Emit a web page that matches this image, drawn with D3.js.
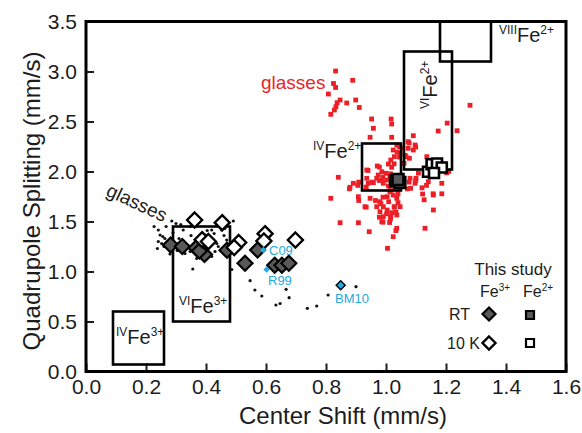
<!DOCTYPE html>
<html>
<head>
<meta charset="utf-8">
<script src="https://cdn.jsdelivr.net/npm/d3@7/dist/d3.min.js"></script>
<style>
  html, body { margin: 0; padding: 0; background: #fff; }
  svg { display: block; font-family: "Liberation Sans", Arial, sans-serif; }
</style>
</head>
<body>
<svg id="chart" width="582" height="433"></svg>
<script>
// Axis ticks
const xTicks = [0.0, 0.2, 0.4, 0.6, 0.8, 1.0, 1.2, 1.4, 1.6];
const yTicks = [0.0, 0.5, 1.0, 1.5, 2.0, 2.5, 3.0, 3.5];

// Literature site fields [csMin, qsMin, csMax, qsMax]
const siteFields = [
  { pre: "IV",   post: "3+", box: [0.09, 0.07, 0.26, 0.60] },
  { pre: "VI",   post: "3+", box: [0.29, 0.50, 0.48, 1.45] },
  { pre: "IV",   post: "2+", box: [0.92, 1.81, 1.05, 2.28] },
  { pre: "VI",   post: "2+", box: [1.06, 2.02, 1.22, 3.20] },
  { pre: "VIII", post: "2+", box: [1.18, 3.10, 1.35, 3.50] }
];

// Fe3+ in glasses, literature [CS, QS]
const glassFe3 = [
  [0.286,1.505],[0.300,1.480],[0.316,1.470],[0.241,1.415],[0.247,1.365],[0.256,1.350],
  [0.241,1.300],[0.238,1.230],[0.263,1.330],[0.271,1.300],[0.252,1.280],[0.260,1.250],
  [0.280,1.230],[0.304,1.210],[0.330,1.180],[0.347,1.200],[0.369,1.315],[0.397,1.365],
  [0.404,1.410],[0.419,1.415],[0.427,1.380],[0.452,1.415],[0.463,1.430],[0.491,1.505],
  [0.436,1.280],[0.441,1.250],[0.452,1.215],[0.430,1.200],[0.413,1.250],[0.347,1.450],
  [0.324,1.415],[0.419,1.150],[0.369,1.130],[0.469,1.315],[0.486,1.255],[0.280,1.175],
  [0.267,1.450],[0.227,1.450],[0.444,1.493],[0.350,1.360],[0.310,1.330],[0.390,1.270],
  [0.460,1.360],[0.290,1.390],
  [0.356,1.025],[0.486,1.020],[0.547,0.908],[0.563,0.815],[0.586,0.755],[0.633,0.665],
  [0.647,0.680],[0.677,0.738],[0.667,0.822],[0.738,0.632],[0.769,0.655],[0.807,0.765],
  [0.900,0.848]
];

// Fe2+ in glasses, literature [CS, QS]
const glassFe2 = [
  [0.832,3.005],[0.889,2.912],[0.825,2.880],[0.832,2.840],[0.808,2.775],[0.847,2.715],
  [0.899,2.715],[0.837,2.688],[0.869,2.685],[0.833,2.648],[0.911,2.640],[0.828,2.615],
  [0.816,2.572],[0.952,2.525],[1.017,2.525],[1.019,2.475],[0.958,2.432],[0.947,2.342],
  [1.019,2.342],[1.280,2.662],[1.204,2.484],[1.237,2.408],[1.174,2.405],[1.091,2.358],
  [1.136,2.148],[1.209,2.000],[1.036,2.265],[1.074,2.298],[1.097,2.265],[1.091,2.215],
  [1.074,2.232],[1.044,2.248],[1.024,2.215],[1.047,2.182],[1.028,2.148],[1.067,2.148],
  [1.078,2.132],[1.016,2.115],[1.060,2.082],[0.971,2.055],[1.008,2.075],[1.019,2.042],
  [0.936,2.015],[0.986,1.998],[1.000,1.982],[0.974,1.965],[0.969,1.932],[0.986,1.915],
  [1.002,1.915],[1.013,1.948],[0.936,1.932],[0.958,1.888],[0.991,1.882],[1.008,1.855],
  [0.941,1.882],[0.891,1.882],[0.880,1.842],[0.841,1.942],[1.080,1.932],[1.100,1.932],
  [1.097,1.882],[1.082,1.832],[1.130,1.965],[1.141,1.898],[1.186,1.882],[1.122,1.775],
  [1.158,1.765],[1.158,1.615],[1.130,1.432],[1.202,1.988],[1.013,1.798],[1.024,1.765],
  [1.004,1.748],[1.036,1.732],[0.980,1.698],[1.009,1.698],[1.040,1.688],[0.991,1.648],
  [1.028,1.648],[1.004,1.615],[1.019,1.588],[1.047,1.648],[0.980,1.598],[0.991,1.548],
  [1.016,1.548],[1.036,1.565],[0.969,1.648],[0.930,1.648],[0.947,1.732],[0.908,1.748],
  [0.816,1.732],[0.847,1.488],[0.908,1.488],[0.986,1.498],[1.012,1.490],[0.944,1.398],
  [1.036,1.432],[1.024,1.348],[1.005,1.232],[1.077,2.285],[1.099,2.245],[1.055,2.234],
  [1.037,2.194],[1.064,2.161],[1.045,2.144],[1.027,2.077],[0.978,2.044],[0.940,2.011],
  [1.015,1.977],[0.990,1.944],[0.978,1.910],[0.953,1.894],[0.909,1.894],[0.878,1.827],
  [0.906,1.861],[0.934,1.844],[1.021,1.904],[1.099,1.910],[1.108,1.984],[1.077,1.894],
  [1.135,1.861],[1.120,1.837],[1.157,1.777],[1.071,1.827],[1.040,1.777],[1.015,1.810],
  [0.990,1.743],[0.965,1.710],[0.909,1.710],[0.934,1.643],[0.983,1.677],[1.027,1.643],
  [1.002,1.576],[1.033,1.593],[0.978,1.543],[1.015,1.526],[0.990,1.493],[1.033,1.409],
  [1.127,1.717],[1.186,1.777]
];

// This study: Fe3+ doublets at room temperature and 10 K
const fe3RT = [
  [0.282,1.265],[0.321,1.250],[0.367,1.235],[0.395,1.170],[0.378,1.205],[0.470,1.212],
  [0.530,1.082],[0.572,1.215],[0.629,1.062],[0.653,1.062],[0.676,1.082]
];
const fe3Cold = [
  [0.362,1.515],[0.454,1.488],[0.387,1.318],[0.408,1.300],[0.509,1.290],[0.494,1.240],
  [0.597,1.378],[0.593,1.305],[0.698,1.315]
];
// This study: Fe2+ doublets at room temperature and 10 K
const fe2RT = [[1.032,1.905],[1.046,1.890],[1.040,1.920]];
const fe2Cold = [[1.140,1.998],[1.152,2.072],[1.170,2.080],[1.186,2.040],[1.160,1.985]];

// Published reference compositions
const refNames = ["C09", "R99", "BM10"];
const refPoints = [[0.591,1.215],[0.602,1.020],[0.849,0.862]];

const W = 582, H = 433;
const margin = { left: 86, right: 16, top: 21.5, bottom: 61.5 };
const svg = d3.select("#chart");
svg.append("rect").attr("width", W).attr("height", H).attr("fill", "#fff");

const x = d3.scaleLinear().domain([0, 1.6]).range([margin.left, W - margin.right]);
const y = d3.scaleLinear().domain([0, 3.5]).range([H - margin.bottom, margin.top]);

const ink = "#1c1c1c";

// axes with inward ticks
const xAxis = svg.append("g")
  .attr("transform", `translate(0,${y(0)})`)
  .call(d3.axisBottom(x).tickValues(xTicks).tickFormat(d3.format(".1f")).tickSize(-8).tickPadding(8));
const yAxis = svg.append("g")
  .attr("transform", `translate(${x(0)},0)`)
  .call(d3.axisLeft(y).tickValues(yTicks).tickFormat(d3.format(".1f")).tickSize(-8).tickPadding(9));
[xAxis, yAxis].forEach(a => {
  a.select(".domain").remove();
  a.selectAll(".tick line").attr("stroke", ink).attr("stroke-width", 2);
  a.selectAll(".tick text").attr("fill", ink).style("font-size", "21px")
    .style("font-family", '"Liberation Sans", Arial, sans-serif');
});

// plot frame
svg.append("rect")
  .attr("x", x(0)).attr("y", y(3.5))
  .attr("width", x(1.6) - x(0)).attr("height", y(0) - y(3.5))
  .attr("fill", "none").attr("stroke", "#000").attr("stroke-width", 3);

// axis titles
svg.append("text").attr("x", 343).attr("y", 424).attr("text-anchor", "middle")
  .attr("fill", ink).style("font-size", "24px").text("Center Shift (mm/s)");
svg.append("text").attr("transform", "translate(40,201) rotate(-90)").attr("text-anchor", "middle")
  .attr("fill", ink).style("font-size", "24px").text("Quadrupole Splitting (mm/s)");

// literature glasses
svg.append("g").selectAll("circle").data(glassFe3).join("circle")
  .attr("cx", d => x(d[0])).attr("cy", d => y(d[1])).attr("r", 1.6).attr("fill", "#111");
svg.append("g").selectAll("rect").data(glassFe2).join("rect")
  .attr("x", d => x(d[0]) - 2.4).attr("y", d => y(d[1]) - 2.4)
  .attr("width", 4.8).attr("height", 4.8).attr("fill", "#ec1f27");

// site fields
svg.append("g").selectAll("rect").data(siteFields).join("rect")
  .attr("x", d => x(d.box[0])).attr("y", d => y(d.box[3]))
  .attr("width", d => x(d.box[2]) - x(d.box[0])).attr("height", d => y(d.box[1]) - y(d.box[3]))
  .attr("fill", "none").attr("stroke", "#000").attr("stroke-width", 2.6);

function feLabel(px, py, pre, post, size, rot) {
  const t = svg.append("text").attr("fill", ink)
    .attr("transform", `translate(${px},${py})` + (rot ? ` rotate(${rot})` : ""));
  const small = Math.round(size * 0.6);
  const up = size * 0.38;
  t.append("tspan").style("font-size", small + "px").attr("dy", -up).text(pre);
  t.append("tspan").style("font-size", size + "px").attr("dy", up).text("Fe");
  t.append("tspan").style("font-size", small + "px").attr("dy", -up).text(post);
  return t;
}
feLabel(116, 344, "IV", "3+", 20);
feLabel(179, 313, "VI", "3+", 20);
feLabel(313, 158, "IV", "2+", 20);
feLabel(437, 109, "VI", "2+", 20, -90);
feLabel(499, 42, "VIII", "2+", 20);

// glass labels
svg.append("text").attr("x", 261).attr("y", 89).attr("fill", "#ec1f27")
  .style("font-size", "19px").text("glasses");
svg.append("text").attr("transform", "translate(105,195) rotate(25)").attr("fill", ink)
  .style("font-size", "19px").text("glasses");

// diamond and square marker paths
const diamond = s => `M0,${-s}L${s},0L0,${s}L${-s},0Z`;
const square = s => `M${-s},${-s}H${s}V${s}H${-s}Z`;
const grey = "#595959";

svg.append("g").selectAll("path").data(fe3RT).join("path")
  .attr("transform", d => `translate(${x(d[0])},${y(d[1])})`)
  .attr("d", diamond(7.5)).attr("fill", grey).attr("stroke", "#000").attr("stroke-width", 2.2);
svg.append("g").selectAll("path").data(fe3Cold).join("path")
  .attr("transform", d => `translate(${x(d[0])},${y(d[1])})`)
  .attr("d", diamond(7.5)).attr("fill", "#fff").attr("stroke", "#000").attr("stroke-width", 2.4);
svg.append("g").selectAll("path").data(fe2RT).join("path")
  .attr("transform", d => `translate(${x(d[0])},${y(d[1])})`)
  .attr("d", square(5.5)).attr("fill", grey).attr("stroke", "#000").attr("stroke-width", 2.6);
svg.append("g").selectAll("path").data(fe2Cold).join("path")
  .attr("transform", d => `translate(${x(d[0])},${y(d[1])})`)
  .attr("d", square(5)).attr("fill", "#fff").attr("stroke", "#000").attr("stroke-width", 2.6);

// reference compositions
const blue = "#27a9e1";
svg.append("g").selectAll("path").data(refPoints).join("path")
  .attr("transform", d => `translate(${x(d[0])},${y(d[1])})`)
  .attr("d", (d, i) => diamond(i === 2 ? 4.5 : 3.2))
  .attr("fill", blue)
  .attr("stroke", (d, i) => i === 2 ? "#000" : "none").attr("stroke-width", 1.4);
const refLabelPos = [[269, 255], [268, 285], [335, 303]];
svg.append("g").selectAll("text").data(refNames).join("text")
  .attr("x", (d, i) => refLabelPos[i][0]).attr("y", (d, i) => refLabelPos[i][1])
  .attr("fill", blue).style("font-size", "13px").text(d => d);

// legend
const lg = svg.append("g").attr("fill", ink);
lg.append("text").attr("x", 513).attr("y", 275).attr("text-anchor", "middle")
  .style("font-size", "17px").text("This study");
function legendFe(cx, cy, post) {
  const t = lg.append("text").attr("x", cx).attr("y", cy).attr("text-anchor", "middle");
  t.append("tspan").style("font-size", "16px").text("Fe");
  t.append("tspan").style("font-size", "10px").attr("dy", -6).text(post);
}
legendFe(495, 297, "3+");
legendFe(538, 297, "2+");
lg.append("text").attr("x", 470).attr("y", 320).attr("text-anchor", "end").style("font-size", "16px").text("RT");
lg.append("text").attr("x", 480).attr("y", 349).attr("text-anchor", "end").style("font-size", "16px").text("10 K");
lg.append("path").attr("transform", "translate(489,314)").attr("d", diamond(6.5))
  .attr("fill", grey).attr("stroke", "#000").attr("stroke-width", 2.2);
lg.append("path").attr("transform", "translate(489,343)").attr("d", diamond(6.5))
  .attr("fill", "#fff").attr("stroke", "#000").attr("stroke-width", 2.4);
lg.append("path").attr("transform", "translate(530,315)").attr("d", square(4))
  .attr("fill", grey).attr("stroke", "#000").attr("stroke-width", 2.2);
lg.append("path").attr("transform", "translate(530,343)").attr("d", square(4))
  .attr("fill", "#fff").attr("stroke", "#000").attr("stroke-width", 2.2);
</script>
</body>
</html>
